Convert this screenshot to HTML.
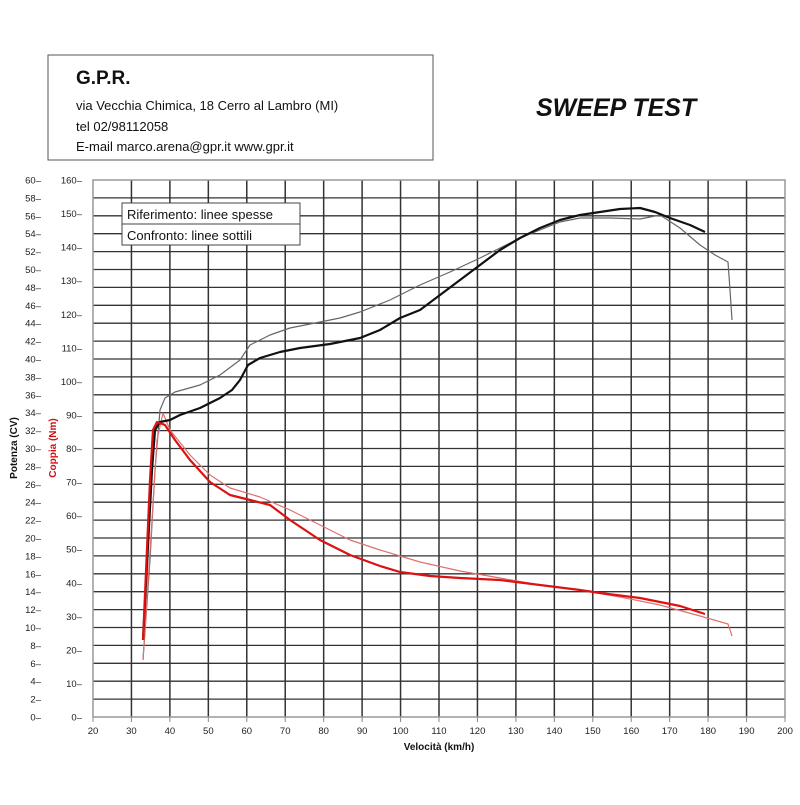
<!DOCTYPE html>
<html><head><meta charset="utf-8"><style>
body{margin:0;background:#fff;width:800px;height:800px;overflow:hidden}
svg{font-family:"Liberation Sans",sans-serif}
</style></head><body>
<svg id="s" width="800" height="800" xmlns="http://www.w3.org/2000/svg">
<rect x="48" y="55" width="385" height="105" fill="#fff" stroke="#555" stroke-width="1"/>
<text x="76" y="84" font-size="19" font-weight="bold" fill="#111">G.P.R.</text>
<text x="76" y="110" font-size="13" fill="#111">via Vecchia Chimica, 18 Cerro al Lambro (MI)</text>
<text x="76" y="131" font-size="13" fill="#111">tel 02/98112058</text>
<text x="76" y="151" font-size="13" fill="#111">E-mail marco.arena@gpr.it  www.gpr.it</text>
<text x="536" y="116" font-size="25" font-weight="bold" font-style="italic" fill="#111">SWEEP TEST</text>
<g id="grid"></g>
<g id="curves" fill="none"></g>
<rect x="122" y="203" width="178" height="42" fill="#fff" stroke="#444"/>
<line x1="122" y1="224" x2="300" y2="224" stroke="#444"/>
<text x="127" y="219" font-size="13" fill="#111">Riferimento: linee spesse</text>
<text x="127" y="240" font-size="13" fill="#111">Confronto: linee sottili</text>
<text transform="translate(17,448) rotate(-90)" font-size="10" font-weight="bold" text-anchor="middle" fill="#111">Potenza (CV)</text>
<text transform="translate(56,448) rotate(-90)" font-size="10" font-weight="bold" text-anchor="middle" fill="#d01010">Coppia (Nm)</text>
<text x="439" y="750" font-size="10" font-weight="bold" text-anchor="middle" fill="#111">Velocità (km/h)</text>
</svg>
<script>
const NS="http://www.w3.org/2000/svg";
const g=document.getElementById('grid');
function el(t,a,p,txt){const e=document.createElementNS(NS,t);for(const k in a)e.setAttribute(k,a[k]);if(txt!==undefined)e.textContent=txt;(p||g).appendChild(e);return e;}
const X0=93,X1=785,Y0=717,Y1=180;
for(let i=0;i<=30;i++){const y=Y0-(Y0-Y1)*i/30;
 if(i>0&&i<30)el('line',{x1:X0,x2:X1,y1:y,y2:y,stroke:'#333','stroke-width':1.3});
 el('text',{x:41,y:y+3.5,'font-size':9.5,'text-anchor':'end',fill:'#222'},null,(i*2)+'–');}
for(let i=0;i<=16;i++){const y=Y0-(Y0-Y1)*i/16;el('text',{x:82,y:y+3.5,'font-size':9.5,'text-anchor':'end',fill:'#222'},null,(i*10)+'–');}
for(let i=0;i<=18;i++){const x=X0+(X1-X0)*i/18;
 if(i>0&&i<18)el('line',{x1:x,x2:x,y1:Y1,y2:Y0,stroke:'#333','stroke-width':1.5});
 el('line',{x1:x,x2:x,y1:Y0,y2:Y0+5,stroke:'#888'});
 el('text',{x:x,y:Y0+17,'font-size':9.5,'text-anchor':'middle',fill:'#222'},null,String(20+i*10));}
el('rect',{x:X0,y:Y1,width:X1-X0,height:Y0-Y1,fill:'none',stroke:'#999','stroke-width':1.5});
const c=document.getElementById('curves');
function pl(pts,col,w){el('polyline',{points:pts.map(p=>p.join(',')).join(' '),stroke:col,'stroke-width':w,'stroke-linejoin':'round',fill:'none'},c);}
pl([[143,660],[150,560],[155,470],[160,410],[165,398],[175,392],[200,385],[220,375],[240,360],[250,345],[270,335],[290,328],[320,322],[340,318],[360,312],[390,300],[420,285],[450,272],[480,258],[500,248],[520,238],[540,230],[560,222],[580,218],[610,218],[640,219],[660,215],[680,228],[700,245],[715,255],[728,262],[730,290],[732,320]],'#666',1.2);
pl([[143,660],[152,520],[157,440],[163,413],[170,430],[190,455],[210,475],[230,488],[260,497],[290,510],[320,525],[350,540],[380,550],[420,562],[460,571],[500,578],[540,585],[580,590],[620,597],[660,605],[700,616],[728,624],[732,636]],'#e07070',1.2);
pl([[143,640],[152,470],[155,430],[160,422],[170,420],[180,415],[200,408],[220,398],[232,390],[240,380],[248,365],[260,358],[280,352],[300,348],[330,344],[360,338],[380,330],[400,318],[420,310],[440,295],[460,280],[480,265],[500,250],[520,238],[540,228],[560,220],[580,215],[600,212],[620,209],[640,208],[655,212],[670,218],[690,225],[705,232]],'#111',2.2);
pl([[143,640],[150,480],[153,430],[157,422],[165,425],[175,440],[190,460],[210,482],[230,495],[250,500],[270,505],[290,520],[320,540],[350,555],[380,566],[400,572],[430,576],[460,578],[500,580],[540,585],[580,590],[600,593],[640,598],[680,606],[705,614]],'#dd1111',2.2);
</script>
</body></html>
